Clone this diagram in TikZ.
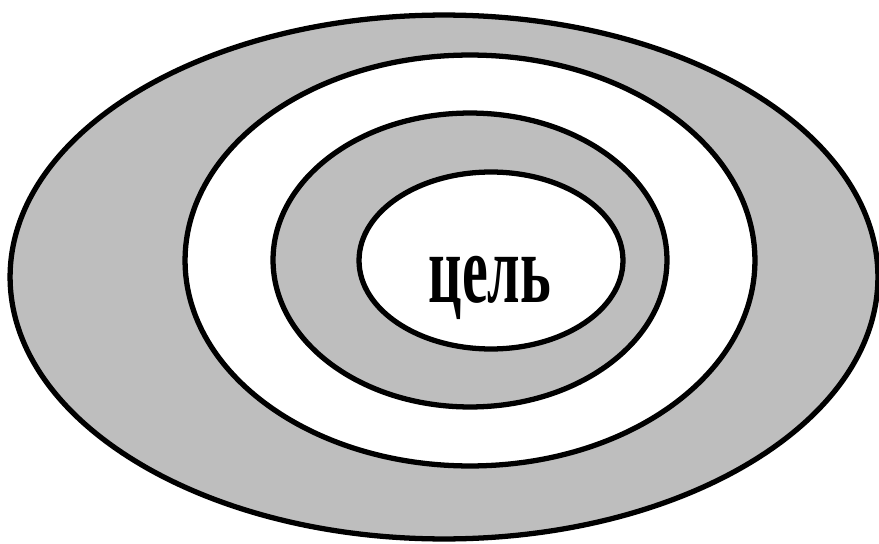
\documentclass[tikz,border=0pt]{standalone}
\usepackage{fontspec}
\setmainfont{Liberation Serif}
\usetikzlibrary{shapes.geometric}
\definecolor{ringgray}{RGB}{190,190,190}
\begin{document}
\begin{tikzpicture}[
  x=0.02cm, y=-0.02cm,
  ring/.style={draw, ellipse, line width=3pt, inner sep=0pt},
  goaltext/.style={font=\bfseries\fontsize{56}{60}\selectfont, xscale=0.59, anchor=base, inner sep=0pt}
]
\useasboundingbox (0,0) rectangle (879,544);

% Rings, outside in
\node[ring, fill=ringgray, minimum width=17.36cm, minimum height=10.48cm] (outer) at (444,277) {};
\node[ring, fill=white,    minimum width=11.40cm, minimum height=8.22cm]  (ringB) at (470,260.5) {};
\node[ring, fill=ringgray, minimum width=7.88cm,  minimum height=5.88cm]  (ringC) at (470,260) {};
\node[ring, fill=white,    minimum width=5.28cm,  minimum height=3.54cm]  (core)  at (491,260.5) {};

% Label
\node[goaltext] (goal) at (490,302) {цель};
\end{tikzpicture}
\end{document}
